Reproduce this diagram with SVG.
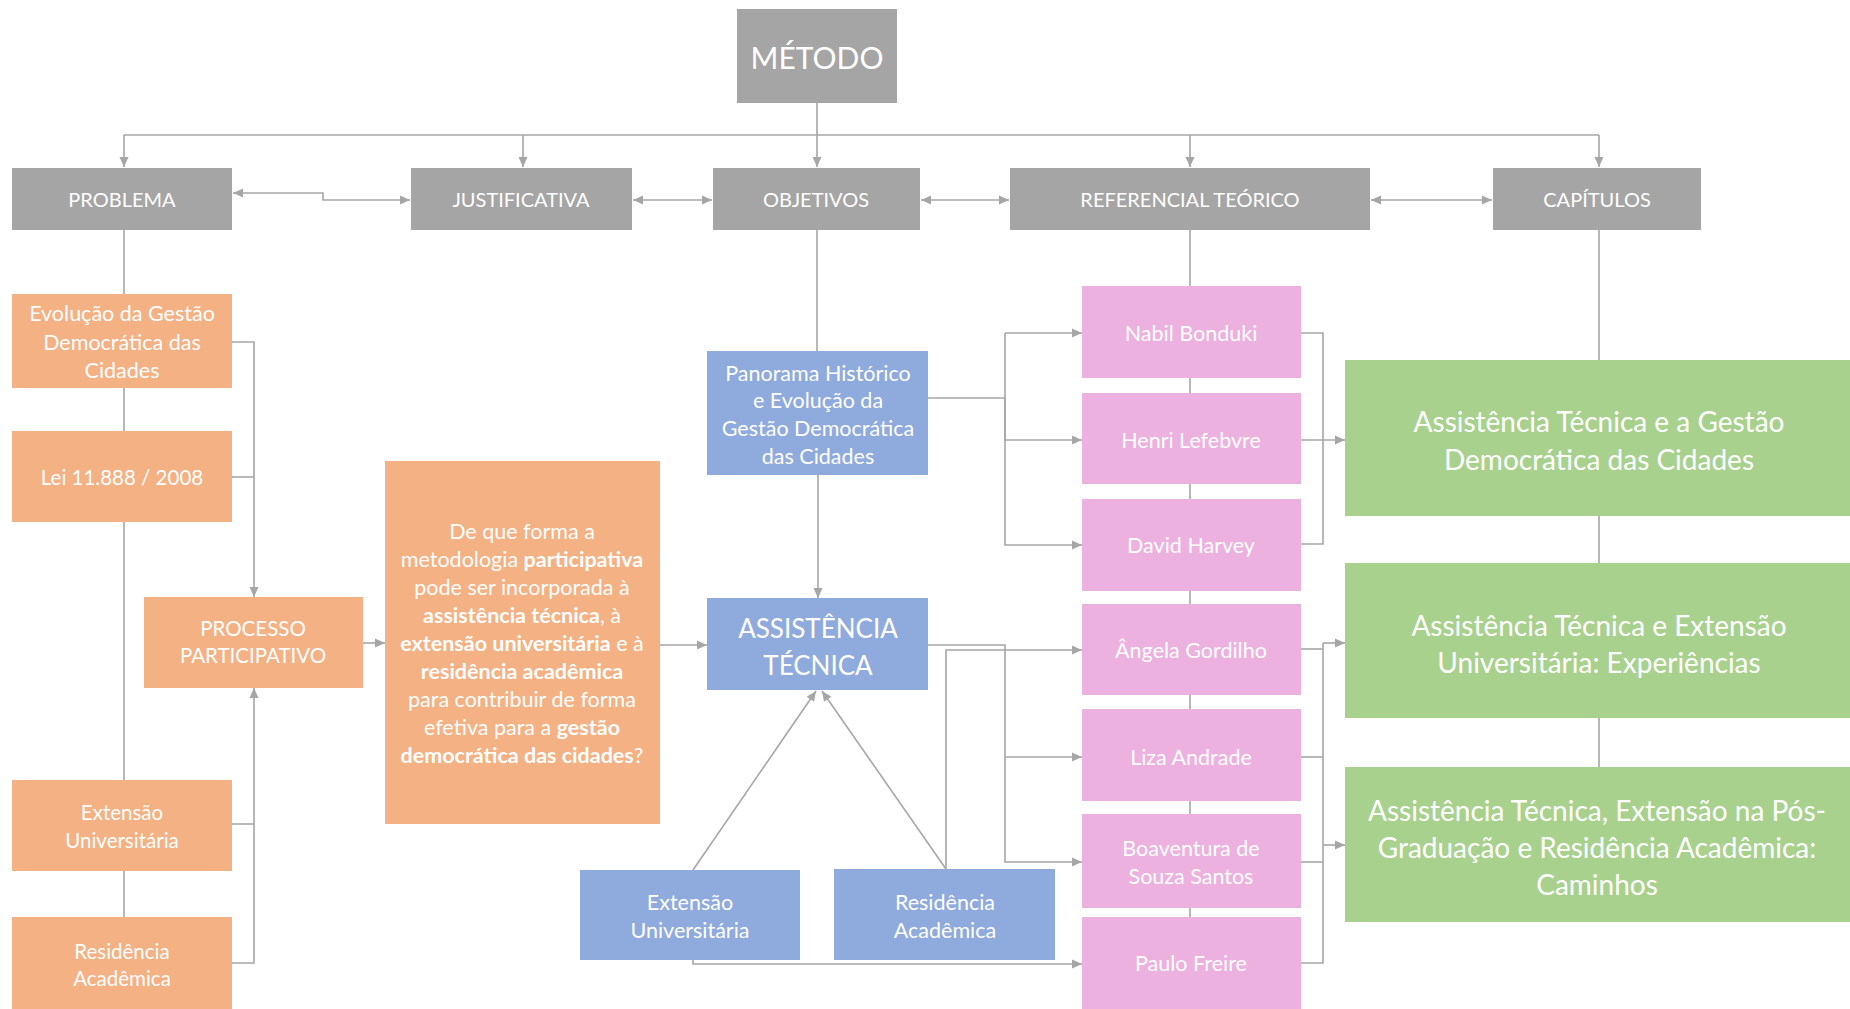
<svg xmlns="http://www.w3.org/2000/svg" width="1850" height="1009" viewBox="0 0 1850 1009">
<style>
text{font-family:Lato,"Open Sans","Liberation Sans",sans-serif;fill:#ffffff;text-anchor:middle;dominant-baseline:central}
.gray{fill:#a5a5a5}
.orange{fill:#f4b183}
.blue{fill:#8faadc}
.pink{fill:#edb1e0}
.green{fill:#a9d18e}
.t20{font-size:20.5px}
.t21{font-size:21.5px}
.t19{font-size:21.5px}
.top{font-size:20px}
.green-t{font-size:28px}
.b{font-weight:bold}
.ln{fill:none;stroke:#a6a6a6;stroke-width:1.6}
.ar{marker-end:url(#arr)}
.bi{marker-start:url(#arr);marker-end:url(#arr)}
</style>
<defs>
<marker id="arr" markerUnits="userSpaceOnUse" markerWidth="12" markerHeight="12" viewBox="0 0 12 12" refX="11" refY="6" orient="auto-start-reverse">
<path d="M1,1.5 L11,6 L1,10.5 Z" fill="#a6a6a6"/>
</marker>
</defs>
<rect width="1850" height="1009" fill="#ffffff"/>
<g id="connectors">
<path class="ln ar" d="M817,103 V167"/>
<path class="ln" d="M124,135 H1599"/>
<path class="ln ar" d="M124,135 V167"/>
<path class="ln ar" d="M523,135 V167"/>
<path class="ln ar" d="M1190,135 V167"/>
<path class="ln ar" d="M1599,135 V167"/>
<path class="ln bi" d="M233,193 H323 V200 H410"/>
<path class="ln bi" d="M633,200 H712"/>
<path class="ln bi" d="M921,200 H1009"/>
<path class="ln bi" d="M1371,200 H1492"/>
<path class="ln" d="M124,230 V917"/>
<path class="ln ar" d="M232,342 H254 V597"/>
<path class="ln" d="M232,477 H254"/>
<path class="ln ar" d="M232,963 H254 V688"/>
<path class="ln" d="M232,824 H254"/>
<path class="ln ar" d="M363,643 H385"/>
<path class="ln ar" d="M660,645 H707"/>
<path class="ln" d="M817,230 V351"/>
<path class="ln ar" d="M818,475 V598"/>
<path class="ln" d="M928,398 H1005"/>
<path class="ln ar" d="M1005,333 H1082"/>
<path class="ln ar" d="M1005,398 V440 H1082"/>
<path class="ln ar" d="M1005,333 V545 H1082"/>
<path class="ln" d="M928,645 H1005 V757"/>
<path class="ln ar" d="M1005,757 H1082"/>
<path class="ln ar" d="M1005,757 V862 H1082"/>
<path class="ln ar" d="M946,869 V650 H1082"/>
<path class="ln ar" d="M693,960 V964 H1082"/>
<path class="ln ar" d="M693,870 L816,691"/>
<path class="ln ar" d="M946,869 L822,691"/>
<path class="ln" d="M1190,230 V917"/>
<path class="ln" d="M1301,333 H1323 V544 H1301"/>
<path class="ln ar" d="M1301,440 H1345"/>
<path class="ln" d="M1301,649 H1323"/>
<path class="ln" d="M1301,757 H1323"/>
<path class="ln" d="M1301,862 H1323"/>
<path class="ln" d="M1301,963 H1323 V643"/>
<path class="ln ar" d="M1323,643 H1345"/>
<path class="ln ar" d="M1323,845 H1345"/>
<path class="ln" d="M1599,230 V767"/>
</g>
<g id="metodo"><rect class="gray" x="737" y="9" width="160" height="94"/><text x="817" y="57" style="font-size:30px">MÉTODO</text></g>
<g id="problema"><rect class="gray" x="12" y="168" width="220" height="62"/><text class="top" x="122" y="199">PROBLEMA</text></g>
<g id="justificativa"><rect class="gray" x="411" y="168" width="221" height="62"/><text class="top" x="521" y="199">JUSTIFICATIVA</text></g>
<g id="objetivos"><rect class="gray" x="713" y="168" width="207" height="62"/><text class="top" x="816" y="199">OBJETIVOS</text></g>
<g id="referencial"><rect class="gray" x="1010" y="168" width="360" height="62"/><text class="top" x="1190" y="199">REFERENCIAL TEÓRICO</text></g>
<g id="capitulos"><rect class="gray" x="1493" y="168" width="208" height="62"/><text class="top" x="1597" y="199">CAPÍTULOS</text></g>
<g id="evolucao"><rect class="orange" x="12" y="294" width="220" height="94"/><text class="t21" x="122" y="313">Evolução da Gestão</text><text class="t21" x="122" y="342">Democrática das</text><text class="t21" x="122" y="370">Cidades</text></g>
<g id="lei"><rect class="orange" x="12" y="431" width="220" height="91"/><text class="t20" x="122" y="477">Lei 11.888 / 2008</text></g>
<g id="processo"><rect class="orange" x="144" y="597" width="219" height="91"/><text class="t20" x="253" y="628">PROCESSO</text><text class="t20" x="253" y="655">PARTICIPATIVO</text></g>
<g id="extensao-o"><rect class="orange" x="12" y="780" width="220" height="91"/><text class="t20" x="122" y="812">Extensão</text><text class="t20" x="122" y="840">Universitária</text></g>
<g id="residencia-o"><rect class="orange" x="12" y="917" width="220" height="100"/><text class="t20" x="122" y="951">Residência</text><text class="t20" x="122" y="978">Acadêmica</text></g>
<g id="pergunta"><rect class="orange" x="385" y="461" width="275" height="363"/>
<text class="t19" x="522" y="531">De que forma a</text>
<text class="t19" x="522" y="559">metodologia <tspan class="b">participativa</tspan></text>
<text class="t19" x="522" y="587">pode ser incorporada à</text>
<text class="t19" x="522" y="615"><tspan class="b">assistência técnica</tspan>, à</text>
<text class="t19" x="522" y="643"><tspan class="b">extensão universitária</tspan> e à</text>
<text class="t19" x="522" y="671"><tspan class="b">residência acadêmica</tspan></text>
<text class="t19" x="522" y="699">para contribuir  de forma</text>
<text class="t19" x="522" y="727">efetiva para a <tspan class="b">gestão</tspan></text>
<text class="t19" x="522" y="755"><tspan class="b">democrática das cidades</tspan>?</text>
</g>
<g id="panorama"><rect class="blue" x="707" y="351" width="221" height="124"/><text class="t21" x="818" y="373">Panorama Histórico</text><text class="t21" x="818" y="400">e Evolução da</text><text class="t21" x="818" y="428">Gestão Democrática</text><text class="t21" x="818" y="456">das Cidades</text></g>
<g id="assistencia"><rect class="blue" x="707" y="598" width="221" height="92"/><text x="818" y="628" style="font-size:26px">ASSISTÊNCIA</text><text x="818" y="665" style="font-size:26px">TÉCNICA</text></g>
<g id="extensao-b"><rect class="blue" x="580" y="870" width="220" height="90"/><text class="t21" x="690" y="902">Extensão</text><text class="t21" x="690" y="930">Universitária</text></g>
<g id="residencia-b"><rect class="blue" x="834" y="869" width="221" height="91"/><text class="t21" x="945" y="902">Residência</text><text class="t21" x="945" y="930">Acadêmica</text></g>
<g id="nabil"><rect class="pink" x="1082" y="286" width="219" height="92"/><text class="t21" x="1191" y="333">Nabil Bonduki</text></g>
<g id="henri"><rect class="pink" x="1082" y="393" width="219" height="91"/><text class="t21" x="1191" y="440">Henri Lefebvre</text></g>
<g id="david"><rect class="pink" x="1082" y="499" width="219" height="92"/><text class="t21" x="1191" y="545">David Harvey</text></g>
<g id="angela"><rect class="pink" x="1082" y="604" width="219" height="91"/><text class="t21" x="1191" y="650">Ângela Gordilho</text></g>
<g id="liza"><rect class="pink" x="1082" y="709" width="219" height="92"/><text class="t21" x="1191" y="757">Liza Andrade</text></g>
<g id="boaventura"><rect class="pink" x="1082" y="814" width="219" height="94"/><text class="t21" x="1191" y="848">Boaventura de</text><text class="t21" x="1191" y="876">Souza Santos</text></g>
<g id="paulo"><rect class="pink" x="1082" y="917" width="219" height="100"/><text class="t21" x="1191" y="963">Paulo Freire</text></g>
<g id="cap1"><rect class="green" x="1345" y="360" width="510" height="156"/><text class="green-t" x="1599" y="421">Assistência Técnica e a Gestão</text><text class="green-t" x="1599" y="459">Democrática das Cidades</text></g>
<g id="cap2"><rect class="green" x="1345" y="563" width="510" height="155"/><text class="green-t" x="1599" y="625">Assistência Técnica e Extensão</text><text class="green-t" x="1599" y="662">Universitária: Experiências</text></g>
<g id="cap3"><rect class="green" x="1345" y="767" width="510" height="155"/><text class="green-t" x="1597" y="810">Assistência Técnica, Extensão na Pós-</text><text class="green-t" x="1597" y="847">Graduação e Residência Acadêmica:</text><text class="green-t" x="1597" y="884">Caminhos</text></g>
</svg>
